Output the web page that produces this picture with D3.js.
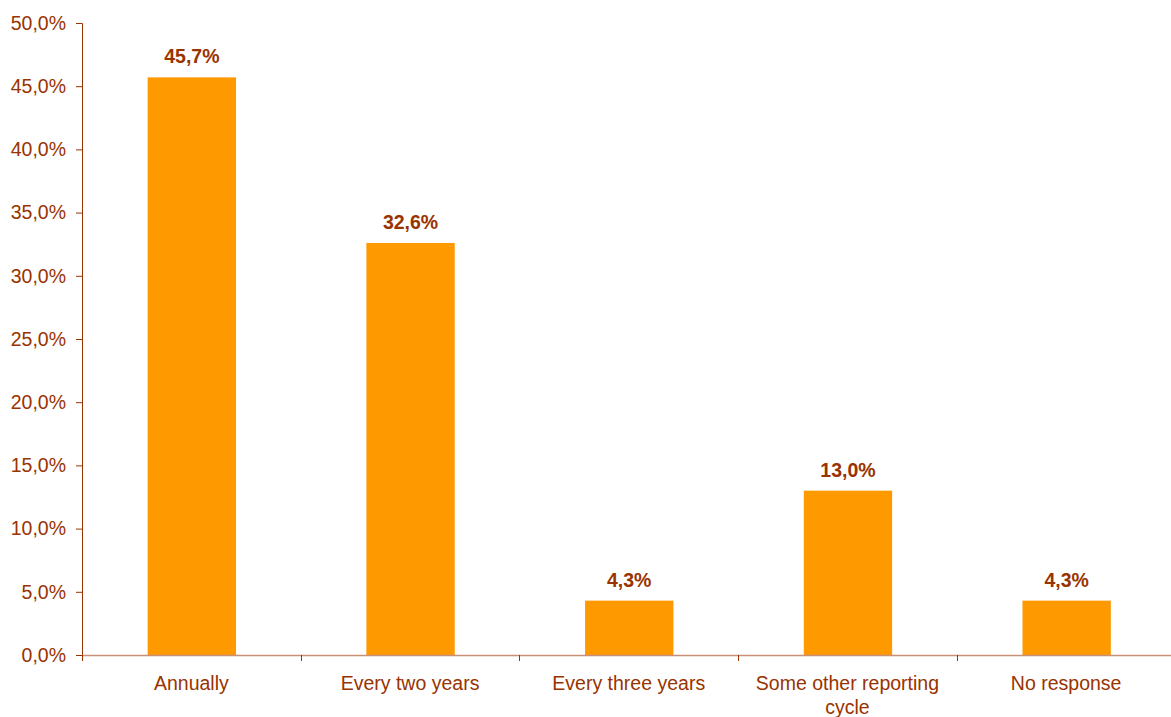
<!DOCTYPE html>
<html>
<head>
<meta charset="utf-8">
<script src="https://cdnjs.cloudflare.com/ajax/libs/d3/7.8.5/d3.min.js"></script>
<style>
    body { margin: 0; background: #fff; }
    svg { display: block; font-family: "Liberation Sans", Arial, sans-serif; }
</style>
</head>
<body>
<svg class="chart" width="1171" height="717"></svg>
<script>
var categories = ["Annually", "Every two years", "Every three years", "Some other reporting cycle", "No response"];
var values = [45.7, 32.6, 4.3, 13.0, 4.3];
var yTicks = [0, 5, 10, 15, 20, 25, 30, 35, 40, 45, 50];

var textColor = "#993300";
var barColor = "#ff9900";

var svg = d3.select("svg.chart");
var plotLeft = 82, plotRight = 1175.5, plotTop = 23, plotBottom = 655;

var x = d3.scaleBand()
    .domain(categories)
    .range([plotLeft, plotRight]);

var y = d3.scaleLinear()
    .domain([0, 50])
    .range([plotBottom, plotTop]);

var fmt = function (v) { return v.toFixed(1).replace(".", ",") + "%"; };

// y axis
var yAxis = svg.append("g")
    .attr("transform", "translate(" + plotLeft + ",0)")
    .call(d3.axisLeft(y).tickValues(yTicks).tickSize(6).tickPadding(10).tickFormat(fmt));
yAxis.select(".domain").attr("stroke", textColor);
yAxis.selectAll(".tick line").attr("stroke", textColor);
yAxis.selectAll(".tick text")
    .attr("font-family", "Liberation Sans, Arial, sans-serif")
    .attr("font-size", "19.5px")
    .attr("fill", textColor);

// bars
var barW = x.bandwidth() * 0.404;
svg.selectAll("rect.bar")
    .data(values)
    .enter().append("rect")
    .classed("bar", true)
    .attr("x", function (d, i) { return x(categories[i]) + x.bandwidth() / 2 - barW / 2 + 0.5; })
    .attr("y", function (d) { return y(d); })
    .attr("width", barW)
    .attr("height", function (d) { return plotBottom - y(d); })
    .attr("fill", barColor);

// value labels
svg.selectAll("text.value")
    .data(values)
    .enter().append("text")
    .classed("value", true)
    .attr("x", function (d, i) { return x(categories[i]) + x.bandwidth() / 2 + 0.5; })
    .attr("y", function (d) { return y(d) - 14; })
    .attr("text-anchor", "middle")
    .attr("font-size", "19.5px")
    .attr("font-weight", "bold")
    .attr("fill", textColor)
    .text(fmt);

// x axis line and ticks at band edges
svg.append("line")
    .attr("x1", plotLeft).attr("x2", plotRight)
    .attr("y1", plotBottom + 0.5).attr("y2", plotBottom + 0.5)
    .attr("stroke", "#c98f78")
    .attr("stroke-width", 1.5);

var edges = categories.map(function (c) { return x(c); }).concat([plotRight]);
svg.selectAll("line.xtick")
    .data(edges)
    .enter().append("line")
    .classed("xtick", true)
    .attr("x1", function (d) { return Math.round(d) + 0.5; })
    .attr("x2", function (d) { return Math.round(d) + 0.5; })
    .attr("y1", plotBottom)
    .attr("y2", plotBottom + 6)
    .attr("stroke", textColor);

// category labels, wrapped
svg.selectAll("text.cat")
    .data(categories)
    .enter().append("text")
    .classed("cat", true)
    .attr("x", function (d) { return x(d) + x.bandwidth() / 2; })
    .attr("y", 690)
    .attr("text-anchor", "middle")
    .attr("font-size", "19.5px")
    .attr("fill", textColor)
    .each(function (d) {
        var text = d3.select(this);
        var cx = x(d) + x.bandwidth() / 2;
        var words = d.split(" ");
        var line = [];
        var tspan = text.append("tspan").attr("x", cx);
        words.forEach(function (w) {
            line.push(w);
            tspan.text(line.join(" "));
            if (tspan.node().getComputedTextLength() > 200 && line.length > 1) {
                line.pop();
                tspan.text(line.join(" "));
                line = [w];
                tspan = text.append("tspan").attr("x", cx).attr("dy", 24).text(w);
            }
        });
    });
</script>
</body>
</html>
